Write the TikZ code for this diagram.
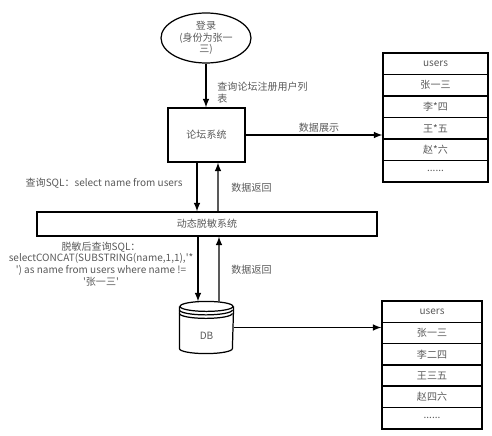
\documentclass[tikz,border=0pt]{standalone}
\usepackage{fontspec}
\setmainfont{Noto Sans CJK SC}
\usepackage{tikz}
\usetikzlibrary{calc, positioning, shapes.geometric}

\begin{document}
\begin{tikzpicture}[x=0.02cm, y=-0.02cm, >=latex, line width=0.7pt,
  every node/.style={font=\fontsize{5.7}{6.6}\selectfont, text=black!65},
  caixa/.style={draw, rectangle, inner sep=0pt},
  linha/.style={draw, rectangle, minimum width=2.1cm, minimum height=0.43cm, inner sep=0pt}]
\useasboundingbox (0,0) rectangle (492,435);

% Desenhando o login como uma elipse:
\node[draw, ellipse, minimum width=1.8cm, minimum height=1cm, inner sep=0pt, align=center] (login) at (206,38) {登录\\(身份为张一\\三)};

% Desenhando o sistema do forum e o sistema de mascaramento:
\node[caixa, minimum width=1.54cm, minimum height=1.08cm] (forum) at (206.5,135) {论坛系统};
\node[caixa, minimum width=6.8cm, minimum height=0.48cm] (mask) at (207,224) {动态脱敏系统};

% Desenhando o banco de dados (cilindro):
\node[minimum width=1.06cm, minimum height=1.02cm, inner sep=0pt] (db) at (206.5,327.5) {};
\draw ([yshift=-0.1cm]db.north) ellipse [x radius=0.53cm, y radius=0.1cm];
\draw ([yshift=-0.1cm]db.north west) -- ([yshift=0.1cm]db.south west)
  arc[start angle=180, end angle=360, x radius=0.53cm, y radius=0.1cm]
  -- ([yshift=-0.1cm]db.north east);
\draw ([yshift=-0.17cm]db.north west) arc[start angle=180, end angle=360, x radius=0.53cm, y radius=0.1cm];
\draw ([yshift=-0.24cm]db.north west) arc[start angle=180, end angle=360, x radius=0.53cm, y radius=0.1cm];
\node (dbtexto) at (206.5,336) {DB};

% Desenhando as tabelas users:
\foreach \i/\t in {1/users, 2/张一三, 3/李*四, 4/王*五, 5/赵*六, 6/{......}}
  \node[linha] (ta-\i) at (435.5,{53+21.5*(\i-0.5)}) {\t};
\foreach \i/\t in {1/users, 2/张一三, 3/李二四, 4/王三五, 5/赵四六, 6/{......}}
  \node[linha, minimum width=2cm] (tb-\i) at (432,{301+21.3*(\i-0.5)}) {\t};

% Desenhando as flechas:
\draw[->] (login.south) -- (login.south |- forum.north);
\draw[->] ($(forum.south)+(-9.5,0)$) -- ($(mask.north)+(-10,0)$);
\draw[->] ($(mask.north)+(11,0)$) -- ($(forum.south)+(11.5,0)$);
\draw[->] ($(mask.south)+(-9,0)$) -- ($(db.north)+(-8.5,0)$);
\draw[->] ($(db.north)+(12.5,0)$) -- ($(mask.south)+(12,0)$);
\draw[->] (forum.east) -- (forum.east -| ta-4.west);
\draw[->] (db.east) -- (db.east -| tb-2.west);

% Adicionando os textos das flechas:
\node[anchor=north west, align=left] (consulta) at (211,76) {查询论坛注册用户列\\表};
\node (mostra) at (319,128) {数据展示};
\node[anchor=east] (sql) at (189,183) {查询SQL：select name from users};
\node[anchor=west] (retorno1) at (225,188) {数据返回};
\node[align=center] (sqlmask) at (101,264) {脱敏后查询SQL：\\selectCONCAT(SUBSTRING(name,1,1),\textquotesingle*\\\textquotesingle) as name from users where name !=\\\textquotesingle 张一三\textquotesingle};
\node[anchor=west] (retorno2) at (225,270) {数据返回};
\end{tikzpicture}
\end{document}
